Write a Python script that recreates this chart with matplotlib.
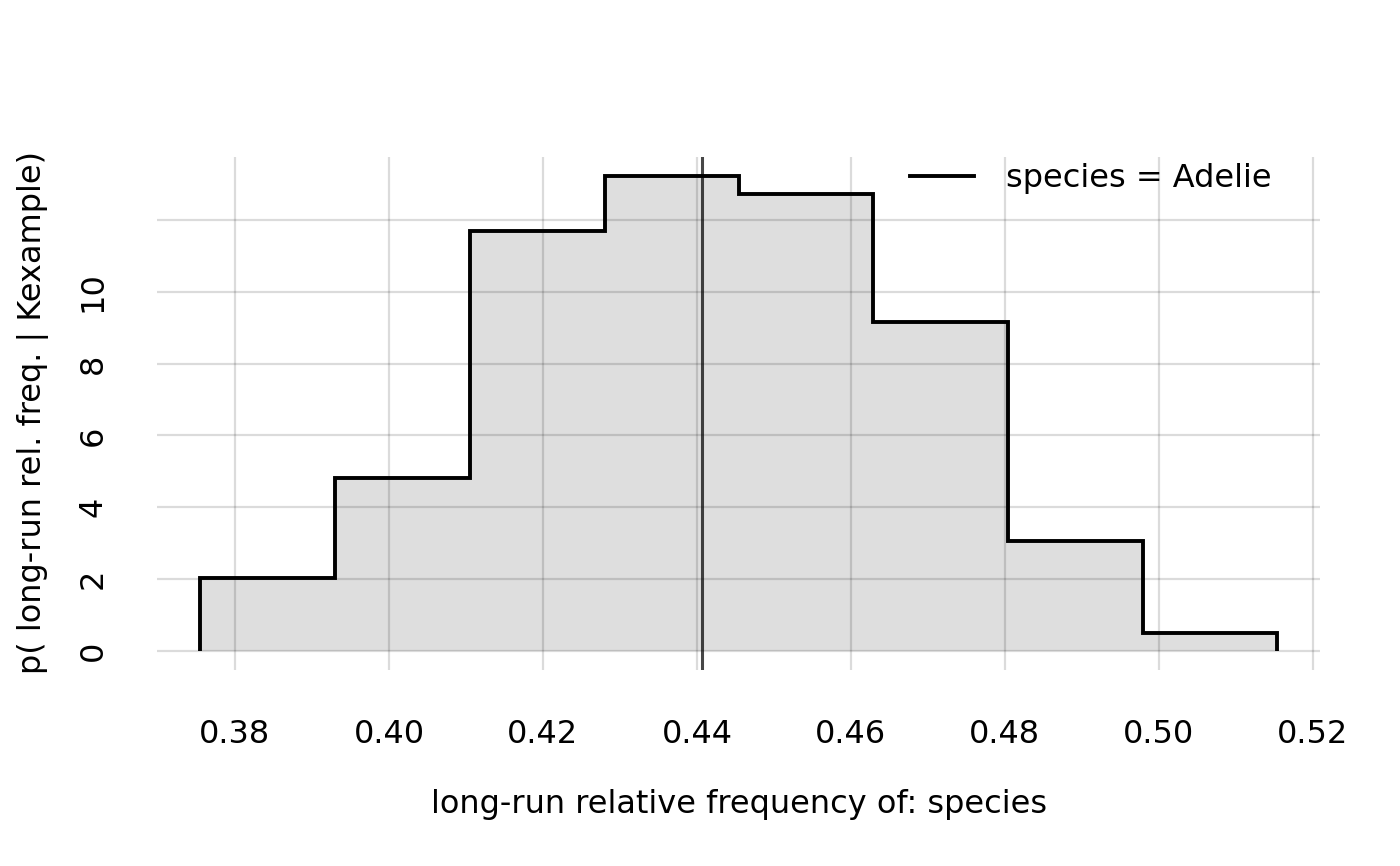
import matplotlib
matplotlib.use("Agg")
import matplotlib.pyplot as plt
import numpy as np
from matplotlib.lines import Line2D

# Data
bin_edges = [0.3755, 0.3930, 0.4105, 0.4280, 0.4454, 0.4629, 0.4804, 0.4979, 0.5153]
densities = [2.02, 4.82, 11.70, 13.23, 12.72, 9.16, 3.06, 0.51]
mean_value = 0.4406
x_ticks = [0.38, 0.40, 0.42, 0.44, 0.46, 0.48, 0.50, 0.52]
x_tick_labels = ["0.38", "0.40", "0.42", "0.44", "0.46", "0.48", "0.50", "0.52"]
y_ticks = [0, 2, 4, 6, 8, 10, 12]
y_tick_labels = ["0", "2", "4", "6", "8", "10", ""]
legend_label = "species = Adelie"
x_label = "long-run relative frequency of: species"
y_label = "p( long-run rel. freq. | Kexample)"

FS = 23
plt.rcParams['font.family'] = ['DejaVu Sans']

fig = plt.figure(figsize=(14, 8.66), dpi=100)
ax = fig.add_axes([157.3 / 1400, (866 - 670) / 866, (1319.7 - 157.3) / 1400, (670 - 156.7) / 866])

ax.stairs(densities, bin_edges, fill=True, color="#dedede", zorder=1)
ax.grid(True, color="black", alpha=0.14, linewidth=1.6, zorder=2)
ax.set_axisbelow(False)
ax.stairs(densities, bin_edges, baseline=0, color="black", linewidth=2.8, zorder=3)
ax.axvline(mean_value, color="black", alpha=0.72, linewidth=2.2, zorder=4)

rng = bin_edges[-1] - bin_edges[0]
ax.set_xlim(bin_edges[0] - 0.04 * rng, bin_edges[-1] + 0.04 * rng)
ymax = max(densities)
ax.set_ylim(-0.04 * ymax, ymax * 1.04)

ax.set_xticks(x_ticks)
ax.set_xticklabels(x_tick_labels, fontsize=FS)
ax.set_yticks(y_ticks)
ax.set_yticklabels(y_tick_labels, fontsize=FS, rotation=90, va="center")
ax.tick_params(axis="both", length=0)
ax.tick_params(axis="x", pad=35)
ax.tick_params(axis="y", pad=35)
for s in ax.spines.values():
    s.set_visible(False)

fig.text(739 / 1400, 1 - 805 / 866, x_label, fontsize=FS, ha="center", va="center")
fig.text(33 / 1400, 1 - 413 / 866, y_label, fontsize=FS, ha="center", va="center", rotation=90)

h = Line2D([], [], color="black", linewidth=2.8)
leg = fig.legend([h], [legend_label], loc="center left",
                 bbox_to_anchor=(910 / 1400, 1 - 179 / 866), frameon=False,
                 fontsize=FS, handlelength=2.0, handletextpad=1.0,
                 borderpad=0, borderaxespad=0)

fig.savefig("out.png", dpi=100)
